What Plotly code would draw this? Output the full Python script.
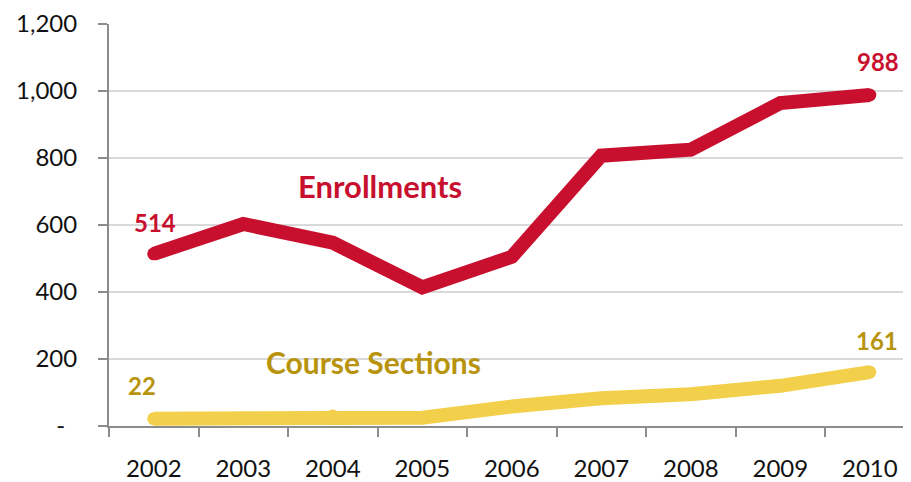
import plotly.graph_objects as go

years = ["2002", "2003", "2004", "2005", "2006", "2007", "2008", "2009", "2010"]
enrollments = [514, 603, 547, 414, 505, 807, 825, 964, 988]
course_sections = [22, 24, 30, 25, 58, 83, 95, 120, 161]

y_tick_vals = [0, 200, 400, 600, 800, 1000, 1200]
y_tick_text = ["-\u2002", "200", "400", "600", "800", "1,000", "1,200"]

RED = "#c8102e"
YELLOW = "#f2d04b"
GOLD = "#b8940e"
FONT = "Lato, Open Sans, sans-serif"

fig = go.Figure()
# markers of about line width give the rounded ends/joins
fig.add_trace(go.Scatter(x=years, y=course_sections, mode="lines+markers",
                         line={"color": YELLOW, "width": 14},
                         marker={"color": YELLOW, "size": 13, "line": {"width": 0}},
                         hoverinfo="skip"))
fig.add_trace(go.Scatter(x=years, y=enrollments, mode="lines+markers",
                         line={"color": RED, "width": 14},
                         marker={"color": RED, "size": 13, "line": {"width": 0}},
                         hoverinfo="skip"))

first, last = 0, len(years) - 1

# end-point value labels (category axis: position by index)
label_font = {"size": 24, "family": FONT}
fig.add_annotation(x=first, y=enrollments[first], text=f"<b>{enrollments[first]}</b>",
                   showarrow=False, yshift=31, xshift=1, font={**label_font, "color": RED})
fig.add_annotation(x=last, y=enrollments[last], text=f"<b>{enrollments[last]}</b>",
                   showarrow=False, yshift=34, xshift=8, font={**label_font, "color": RED})
fig.add_annotation(x=first, y=course_sections[first], text=f"<b>{course_sections[first]}</b>",
                   showarrow=False, yshift=33, xshift=-12, font={**label_font, "color": GOLD})
fig.add_annotation(x=last, y=course_sections[last], text=f"<b>{course_sections[last]}</b>",
                   showarrow=False, yshift=32, xshift=7, font={**label_font, "color": GOLD})

# series names
fig.add_annotation(x=0.3385, y=0.598, xref="paper", yref="paper", text="<b>Enrollments</b>",
                   xanchor="center", yanchor="middle",
                   showarrow=False, font={"color": RED, "size": 31, "family": FONT})
fig.add_annotation(x=0.33, y=0.158, xref="paper", yref="paper", text="<b>Course Sections</b>",
                   xanchor="center", yanchor="middle",
                   showarrow=False, font={"color": GOLD, "size": 30, "family": FONT})

fig.update_layout(
    width=903,
    height=474,
    template="plotly_white",
    showlegend=False,
    paper_bgcolor="white",
    plot_bgcolor="white",
    margin={"l": 101, "r": 0, "t": 12, "b": 56},
    font={"family": FONT, "size": 24, "color": "#111111"},
    xaxis={
        "type": "category",
        "range": [-0.5, 8.46],
        "showgrid": False,
        "showline": True,
        "linecolor": "#8c8c8c",
        "linewidth": 2,
        "ticks": "outside",
        "tickson": "boundaries",
        "ticklen": 9,
        "tickwidth": 2,
        "tickcolor": "#8c8c8c",
        "ticklabelstandoff": 20,
        "zeroline": False,
    },
    yaxis={
        "range": [0, 1200],
        "tickvals": y_tick_vals,
        "ticktext": y_tick_text,
        "ticklabeloverflow": "allow",
        "showgrid": True,
        "gridcolor": "#d9d9d9",
        "gridwidth": 1.5,
        "showline": True,
        "linecolor": "#8c8c8c",
        "linewidth": 2,
        "ticks": "outside",
        "ticklen": 9,
        "tickwidth": 2,
        "tickcolor": "#8c8c8c",
        "ticklabelstandoff": 16,
        "zeroline": False,
    },
)

fig.write_html("out.html")
